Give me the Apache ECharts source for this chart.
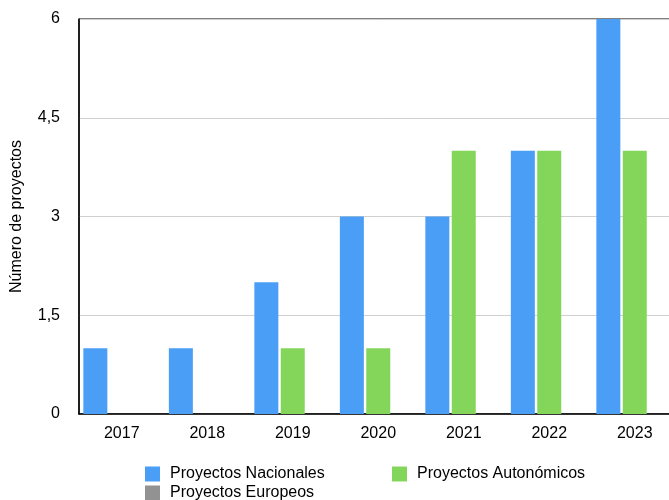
<!DOCTYPE html>
<html>
<head>
<meta charset="utf-8">
<script src="https://cdn.jsdelivr.net/npm/echarts@6/dist/echarts.min.js"></script>
<style>
  html, body { margin: 0; padding: 0; background: #fff; overflow: hidden; }
  #chart { width: 680px; height: 500px; }
</style>
</head>
<body>
<div id="chart"></div>
<script>
var years = ['2017', '2018', '2019', '2020', '2021', '2022', '2023'];
var nacionales = [1, 1, 2, 3, 3, 4, 6];
var autonomicos = [0, 0, 1, 1, 4, 4, 4];
var europeos = [0, 0, 0, 0, 0, 0, 0];
var seriesNames = ['Proyectos Nacionales', 'Proyectos Autonómicos', 'Proyectos Europeos'];
var colors = ['#4a9ef6', '#84d65a', '#929292'];

var myChart = echarts.init(document.getElementById('chart'));
var font = 'Liberation Sans, Arial, sans-serif';

function legendAt(name, left, top) {
    return {
        data: [name],
        left: left,
        top: top,
        padding: 0,
        icon: 'rect',
        itemWidth: 15,
        itemHeight: 15,
        itemGap: 0,
        selectedMode: false,
        textStyle: { fontFamily: font, fontSize: 16, color: '#000', padding: [0, 0, 0, 5] }
    };
}

var option = {
    animation: false,
    color: colors,
    grid: {
        left: 79,
        top: 19,
        width: 598.5,
        height: 395,
        show: true,
        borderColor: '#000',
        borderWidth: 1
    },
    legend: [
        legendAt(seriesNames[0], 145, 466),
        legendAt(seriesNames[1], 392, 466),
        legendAt(seriesNames[2], 145, 485)
    ],
    xAxis: {
        type: 'category',
        data: years,
        axisLine: { lineStyle: { color: '#000', width: 1.5 } },
        axisTick: { show: false },
        axisLabel: { fontFamily: font, fontSize: 16, color: '#000', margin: 12 }
    },
    yAxis: {
        type: 'value',
        min: 0,
        max: 6,
        interval: 1.5,
        name: 'Número de proyectos',
        nameLocation: 'middle',
        nameGap: 54,
        nameTextStyle: { fontFamily: font, fontSize: 16, color: '#000' },
        axisLine: { show: true, lineStyle: { color: '#000', width: 1.5 } },
        axisTick: { show: false },
        splitLine: { lineStyle: { color: '#d0d0d0' } },
        axisLabel: {
            fontFamily: font, fontSize: 16, color: '#000', margin: 19,
            formatter: function (v) { return String(v).replace('.', ','); }
        }
    },
    series: [
        { name: seriesNames[0], type: 'bar', data: nacionales, barWidth: 24, barGap: '10%' },
        { name: seriesNames[1], type: 'bar', data: autonomicos, barWidth: 24, barGap: '10%' },
        { name: seriesNames[2], type: 'bar', data: europeos, barWidth: 24, barGap: '10%' }
    ]
};

myChart.setOption(option);
</script>
</body>
</html>
